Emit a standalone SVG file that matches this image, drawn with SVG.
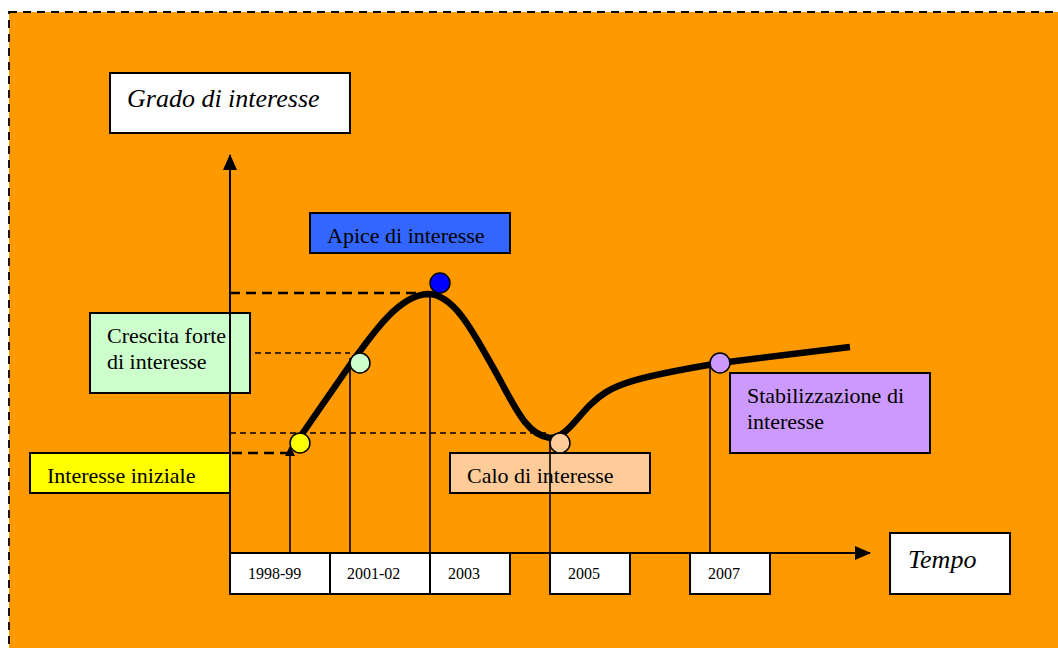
<svg xmlns="http://www.w3.org/2000/svg" width="1058" height="648" viewBox="0 0 1058 648">
<style>
.box{stroke:#000;stroke-width:2}
.t{font-family:"Liberation Serif","Times New Roman",serif;font-size:22px;fill:#000}
.it{font-family:"Liberation Serif","Times New Roman",serif;font-style:italic;font-size:26px;fill:#000}
.yr{font-family:"Liberation Serif","Times New Roman",serif;font-size:16px;fill:#000}
.ax{stroke:#000;stroke-width:2;fill:none}
.vl{stroke:#000;stroke-width:1.6;fill:none}
.dt{stroke:#000;stroke-width:2.5;stroke-dasharray:10 6;fill:none}
.dn{stroke:#000;stroke-width:1.5;stroke-dasharray:6 4;fill:none}
.dot{stroke:#000;stroke-width:1.5}
</style>
<defs>
<marker id="arr" markerWidth="10" markerHeight="10" refX="9" refY="5" orient="auto" markerUnits="userSpaceOnUse" viewBox="0 0 10 10">
<path d="M0,0 L10,5 L0,10 z" fill="#000"/>
</marker>
<marker id="arrL" markerWidth="16" markerHeight="14" refX="15" refY="7" orient="auto" markerUnits="userSpaceOnUse" viewBox="0 0 16 14">
<path d="M0,0 L16,7 L0,14 z" fill="#000"/>
</marker>
</defs>
<rect x="0" y="0" width="1058" height="648" fill="#fff"/>
<rect x="9" y="12" width="1070" height="660" fill="#FF9900" stroke="#000" stroke-width="1.8" stroke-dasharray="8 6"/>

<g id="grado"><rect class="box" x="110" y="73" width="240" height="60" fill="#fff"/><text class="it" x="127" y="107">Grado di interesse</text></g>
<g id="tempo"><rect class="box" x="890" y="533" width="120" height="61" fill="#fff"/><text class="it" x="908" y="568">Tempo</text></g>
<g id="apice"><rect class="box" x="310" y="213" width="200" height="40" fill="#3366FF"/><text class="t" x="327" y="243">Apice di interesse</text></g>
<g id="crescita"><rect class="box" x="90" y="313" width="160" height="80" fill="#CCFFCC"/><text class="t" x="107" y="343">Crescita forte</text><text class="t" x="107" y="369">di interesse</text></g>
<g id="iniziale"><rect class="box" x="30" y="453" width="200" height="40" fill="#FFFF00"/><text class="t" x="47" y="483">Interesse iniziale</text></g>
<g id="calo"><rect class="box" x="450" y="453" width="200" height="40" fill="#FFCC99"/><text class="t" x="467" y="483">Calo di interesse</text></g>
<g id="stabil"><rect class="box" x="730" y="373" width="200" height="80" fill="#CC99FF"/><text class="t" x="747" y="403">Stabilizzazione di</text><text class="t" x="747" y="429">interesse</text></g>

<g id="connectors">
<line class="ax" x1="230" y1="594" x2="230" y2="155" marker-end="url(#arrL)"/>
<line class="ax" x1="230" y1="553" x2="870" y2="553" marker-end="url(#arrL)"/>
<line class="dt" x1="230" y1="293" x2="432" y2="293"/>
<line class="dn" x1="255" y1="353" x2="350" y2="353"/>
<line class="dn" x1="230" y1="433" x2="550" y2="433"/>
<line class="dt" x1="232" y1="453" x2="290" y2="453"/>
<line class="vl" x1="290" y1="553" x2="290" y2="447" marker-end="url(#arr)"/>
<line class="vl" x1="350" y1="553" x2="350" y2="358"/>
<line class="vl" x1="430" y1="553" x2="430" y2="293"/>
<line class="vl" x1="550" y1="553" x2="550" y2="440"/>
<line class="vl" x1="710" y1="553" x2="710" y2="368"/>
<path d="M300 437 L352 362 C375 330 400 295 428 294 C455 294 475 335 500 380 C520 418 530 435 550 438 C565 438 575 420 590 405 C610 385 630 378 720 363 L850 347" fill="none" stroke="#000" stroke-width="6.5"/>
</g>

<g id="dots">
<circle class="dot" cx="300" cy="443" r="10" fill="#FFFF00"/>
<circle class="dot" cx="360" cy="363" r="10" fill="#CCFFCC"/>
<circle class="dot" cx="440" cy="283" r="10" fill="#0000FF"/>
<circle class="dot" cx="560" cy="443" r="10" fill="#FFCC99"/>
<circle class="dot" cx="720" cy="363" r="10" fill="#CC99FF"/>
</g>

<g id="years">
<g id="y1998"><rect class="box" x="230" y="553" width="100" height="41" fill="#fff"/><text class="yr" x="248" y="579">1998-99</text></g>
<g id="y2001"><rect class="box" x="330" y="553" width="100" height="41" fill="#fff"/><text class="yr" x="347" y="579">2001-02</text></g>
<g id="y2003"><rect class="box" x="430" y="553" width="80" height="41" fill="#fff"/><text class="yr" x="448" y="579">2003</text></g>
<g id="y2005"><rect class="box" x="550" y="553" width="80" height="41" fill="#fff"/><text class="yr" x="568" y="579">2005</text></g>
<g id="y2007"><rect class="box" x="690" y="553" width="80" height="41" fill="#fff"/><text class="yr" x="708" y="579">2007</text></g>
</g>
</svg>
